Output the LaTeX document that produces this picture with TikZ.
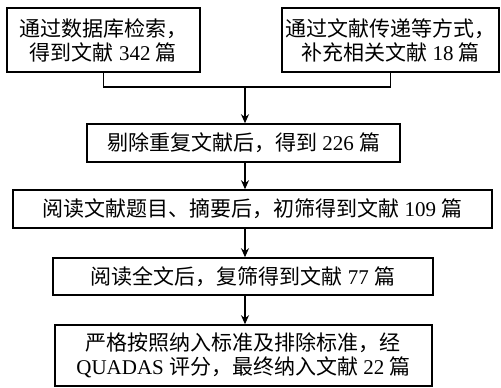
\documentclass[tikz,border=0pt]{standalone}
\usepackage{fontspec}
\setmainfont{Noto Sans CJK SC}
\newfontfamily\latin{Liberation Serif}
\newcommand{\lt}[1]{{\latin #1}}
\usetikzlibrary{arrows.meta}
\begin{document}
\begin{tikzpicture}[x=1pt,y=-1pt,
  box/.style={draw,line width=1.6pt,align=center,inner sep=0pt,font=\fontsize{21}{24}\selectfont},
  conn/.style={line width=1.6pt},
  arr/.style={line width=1.6pt,-{Stealth[length=9pt,width=8pt]}}]
\useasboundingbox (0,0) rectangle (501,388);
\node[box,minimum width=193pt,minimum height=64pt] (b1) at (103.5,40) {通过数据库检索，\\得到文献\lt{ 342 }篇};
\node[box,minimum width=217pt,minimum height=64pt] (b2) at (390.5,40) {通过文献传递等方式，\\补充相关文献\lt{ 18 }篇};
\coordinate (j) at (245,87);
\node[box,minimum width=313pt,minimum height=38pt] (b3) at (243.5,143) {剔除重复文献后，得到\lt{ 226 }篇};
\node[box,minimum width=479pt,minimum height=38pt] (b4) at (252.5,209) {阅读文献题目、摘要后，初筛得到文献\lt{ 109 }篇};
\node[box,minimum width=380pt,minimum height=37pt] (b5) at (243,276.5) {阅读全文后，复筛得到文献\lt{ 77 }篇};
\node[box,minimum width=377pt,minimum height=61pt] (b6) at (243.5,355.5) {严格按照纳入标准及排除标准，经\\\lt{QUADAS }评分，最终纳入文献\lt{ 22 }篇};
\draw[conn] (b1.south) |- (j) -| (b2.south);
\draw[arr] (j) -- (j |- b3.north);
\draw[arr] (j |- b3.south) -- (j |- b4.north);
\draw[arr] (j |- b4.south) -- (j |- b5.north);
\draw[arr] (j |- b5.south) -- (j |- b6.north);
\end{tikzpicture}
\end{document}
